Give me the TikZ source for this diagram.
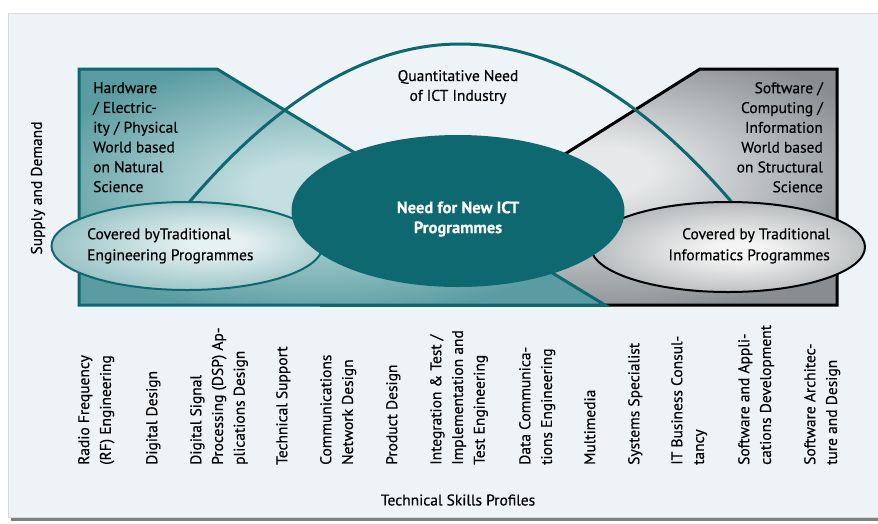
\documentclass[tikz,border=0pt]{standalone}
\usepackage{fontspec}
\setmainfont{PT Sans}[FakeBold=0.4]
\usetikzlibrary{shapes.geometric,positioning}

\definecolor{ictTeal}{HTML}{0E6870}
\definecolor{panelBg}{HTML}{EEF3F7}
\definecolor{hwEdge}{HTML}{5A9CA1}
\definecolor{hwLight}{HTML}{C4DFE1}
\definecolor{swEdge}{HTML}{878D91}
\definecolor{swLight}{HTML}{E6E8E9}
\definecolor{engEdge}{HTML}{62A2A7}
\definecolor{engLight}{HTML}{E6F1F1}
\definecolor{infEdge}{HTML}{858B8F}
\definecolor{infLight}{HTML}{F4F4F4}

\pgfdeclareradialshading{hwShade}{\pgfpoint{-4bp}{0bp}}{color(0bp)=(hwLight); color(5bp)=(hwLight); color(28bp)=(hwEdge); color(50bp)=(hwEdge)}
\pgfdeclareradialshading{swShade}{\pgfpoint{2bp}{4bp}}{color(0bp)=(swLight); color(5bp)=(swLight); color(30bp)=(swEdge); color(50bp)=(swEdge)}
\pgfdeclareradialshading{engShade}{\pgfpoint{6bp}{2bp}}{color(0bp)=(engLight); color(5bp)=(engLight); color(44bp)=(engEdge); color(50bp)=(engEdge)}
\pgfdeclareradialshading{infShade}{\pgfpoint{2bp}{-2bp}}{color(0bp)=(infLight); color(5bp)=(infLight); color(44bp)=(infEdge); color(50bp)=(infEdge)}

\tikzset{
	world/.style={line width=3pt, line join=miter},
	covered/.style={ellipse, shade, line width=2pt, inner sep=0pt},
	skill/.style={rotate=90, anchor=north west, align=left, inner sep=0pt,
		font=\fontsize{15.5}{21.7}\selectfont},
	blurb/.style={inner sep=0pt}
}

\begin{document}
\begin{tikzpicture}[x=1pt, y=-1pt, font=\fontsize{15.5}{19.8}\selectfont]
	\useasboundingbox (0,0) rectangle (878,523);
	% panel
	\fill[black!50] (11,17) rectangle (880,521);
	\filldraw[fill=panelBg, draw=black!15] (8,13) rectangle (880,517);
	
	% the two worlds
	\draw[world, draw=black, shading=swShade] (700,69) -- (837,69) -- (837,305) -- (325,305) -- cycle;
	\draw[world, draw=ictTeal, shading=hwShade] (79,69) -- (217,69) -- (605,305) -- (79,305) -- cycle;
	
	\coordinate (arcL) at (186,206);
	\coordinate (arcR) at (735,206);
	\draw[ictTeal, line width=3pt] (arcL) .. controls (368,-10) and (552,-10) .. (arcR);
	
	\node[covered, draw=ictTeal, shading=engShade, minimum width=271pt, minimum height=88pt] (engEll) at (187,246) {};
	\node[covered, draw=black, shading=infShade, minimum width=274pt, minimum height=90pt] (infEll) at (728,247) {};
	\node[ellipse, fill=ictTeal, minimum width=333pt, minimum height=152pt] (needEll) at (458,211) {};
	
	\node[align=center] (quant) at (458,87) {Quantitative Need\\of ICT Industry};
	\node[blurb, anchor=north west, align=left] (hwText) at (93,82) {Hardware\\/ Electric-\\ity / Physical\\World based\\on Natural\\Science};
	\node[blurb, anchor=north east, align=right] (swText) at (823,82) {Software /\\Computing /\\Information\\World based\\on Structural\\Science};
	\node[blurb, anchor=north west, align=left, font=\fontsize{15.5}{21}\selectfont] (engText) at (87,228) {Covered byTraditional\\Engineering Programmes};
	\node[blurb, anchor=north east, align=right, font=\fontsize{15.5}{21}\selectfont] (infText) at (830,228) {Covered by Traditional\\Informatics Programmes};
	\node[align=center, text=white, font=\fontsize{16.5}{20}\selectfont\bfseries] (needText) at (458,219) {Need for New ICT\\Programmes};
	\node[rotate=90] (supply) at (38,188) {Supply and Demand};
	
	% skills profiles
	\node[skill] (rf) at (78,465) {Radio Frequency\\(RF) Engineering};
	\node[skill] (dd) at (146,465) {Digital Design};
	\node[skill] (dsp) at (190,465) {Digital Signal\\Processing (DSP) Ap-\\plications Design};
	\node[skill] (ts) at (276,465) {Technical Support};
	\node[skill] (cnd) at (320,465) {Communications\\Network Design};
	\node[skill] (pd) at (386,465) {Product Design};
	\node[skill] (ite) at (430,465) {Integration \& Test /\\Implementation and\\Test Engineering};
	\node[skill] (dce) at (519,465) {Data Communica-\\tions Engineering};
	\node[skill] (mm) at (584,465) {Multimedia};
	\node[skill] (ss) at (628,465) {Systems Specialist};
	\node[skill] (itb) at (671,465) {IT Business Consul-\\tancy};
	\node[skill] (sad) at (738,465) {Software and Appli-\\cations Development};
	\node[skill] (sa) at (804,465) {Software Architec-\\ture and Design};
	\node (profiles) at (458,500) {Technical Skills Profiles};
\end{tikzpicture}
\end{document}
